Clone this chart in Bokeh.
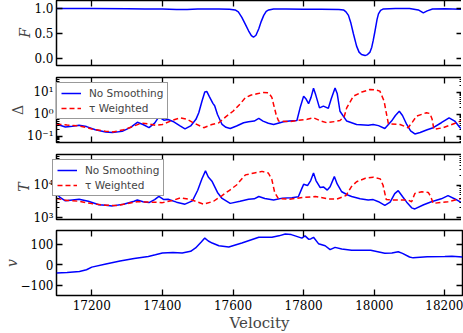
from bokeh.plotting import figure
from bokeh.layouts import column
from bokeh.models import (Range1d, FixedTicker, LinearAxis, LogAxis, LogTicker,
                          CustomJSTickFormatter, Legend, LegendItem)
from bokeh.embed import file_html
from bokeh.resources import INLINE

# ---------------- data ----------------
x_ticks = [17200, 17400, 17600, 17800, 18000, 18200]
f_ticks = [0.0, 0.5, 1.0]
v_ticks = [-100, 0, 100]
legend_labels = ["No Smoothing", "\u03c4 Weighted"]
y_labels = ["F", "\u0394", "T", "v"]
x_label = "Velocity"

f_vel = [17100, 17200, 17300, 17350, 17400, 17440, 17470, 17500, 17560, 17590,
         17606, 17615, 17625, 17635, 17644, 17652, 17658, 17665, 17673, 17680,
         17687, 17694, 17701, 17715, 17750, 17800, 17850, 17900, 17913, 17920,
         17927, 17934, 17941, 17950, 17957, 17964, 17974, 17981, 17988, 17993,
         17997, 18001, 18004, 18008, 18012, 18018, 18026, 18060, 18100, 18125,
         18139, 18150, 18165, 18200, 18250]
f_val = [1.0, 1.0, 0.995, 0.99, 0.99, 0.98, 0.98, 0.99, 0.99, 0.985,
         0.97, 0.93, 0.82, 0.68, 0.55, 0.45, 0.42, 0.46, 0.59, 0.74,
         0.86, 0.94, 0.97, 0.99, 0.99, 0.985, 0.985, 0.98, 0.97, 0.93,
         0.86, 0.70, 0.49, 0.24, 0.12, 0.07, 0.05, 0.07, 0.12, 0.22,
         0.35, 0.50, 0.62, 0.78, 0.89, 0.96, 0.99, 1.0, 1.0, 0.97,
         0.91, 0.95, 0.99, 0.995, 0.985]

d_raw_vel = [17100, 17110, 17125, 17145, 17164, 17185, 17210, 17239, 17258, 17286,
             17310, 17329, 17345, 17362, 17378, 17390, 17404, 17416, 17430, 17450,
             17464, 17480, 17495, 17503, 17512, 17520, 17526, 17533, 17543, 17548,
             17556, 17569, 17580, 17592, 17610, 17630, 17644, 17660, 17673, 17685,
             17700, 17715, 17743, 17760, 17781, 17790, 17800, 17807, 17814, 17821,
             17828, 17834, 17845, 17856, 17864, 17870, 17878, 17889, 17895, 17903,
             17922, 17950, 17983, 17997, 18012, 18030, 18049, 18060, 18071, 18080,
             18092, 18103, 18115, 18130, 18150, 18167, 18190, 18212, 18228, 18243,
             18250]
d_raw_val = [0.36, 0.32, 0.27, 0.29, 0.32, 0.28, 0.20, 0.16, 0.15, 0.17,
             0.26, 0.44, 0.35, 0.25, 0.40, 0.78, 0.55, 0.59, 0.48, 0.30,
             0.22, 0.30, 0.60, 1.2, 4.0, 10.5, 11.0, 6.5, 3.2, 2.5,
             1.0, 0.35, 0.26, 0.23, 0.30, 0.42, 0.47, 0.50, 0.66, 0.50,
             0.40, 0.35, 0.47, 0.50, 0.53, 2.0, 6.8, 5.0, 3.1, 6.0,
             15.5, 8.0, 2.0, 2.4, 2.1, 1.9, 5.0, 16.0, 9.0, 1.4,
             0.50, 0.35, 0.32, 0.35, 0.31, 0.23, 0.50, 0.90, 1.4, 0.90,
             0.35, 0.18, 0.13, 0.15, 0.20, 0.25, 0.42, 0.70, 0.50, 0.25,
             0.22]

d_tau_vel = [17100, 17130, 17165, 17200, 17240, 17260, 17290, 17320, 17340, 17360,
             17380, 17400, 17430, 17451, 17470, 17490, 17517, 17540, 17560, 17580,
             17600, 17620, 17635, 17650, 17668, 17685, 17701, 17710, 17715, 17722,
             17729, 17760, 17781, 17810, 17828, 17850, 17866, 17890, 17903, 17915,
             17922, 17941, 17965, 17988, 18005, 18016, 18028, 18034, 18040, 18073,
             18096, 18108, 18120, 18148, 18158, 18164, 18169, 18195, 18233, 18250]
d_tau_val = [0.36, 0.33, 0.30, 0.22, 0.17, 0.16, 0.20, 0.30, 0.40, 0.38,
             0.32, 0.35, 0.55, 0.70, 0.60, 0.40, 0.25, 0.35, 0.42, 0.80,
             1.4, 3.0, 5.8, 7.5, 8.7, 10.0, 9.7, 6.0, 2.8, 1.0,
             0.50, 0.47, 0.53, 0.60, 0.70, 0.50, 0.42, 0.48, 0.53, 0.80,
             2.0, 6.8, 10.5, 13.7, 13.0, 11.5, 4.0, 1.2, 0.38, 0.35,
             0.25, 0.45, 0.84, 1.2, 1.1, 0.6, 0.21, 0.25, 0.42, 0.55]

t_raw_vel = [17100, 17110, 17125, 17145, 17164, 17190, 17220, 17239, 17258, 17290,
             17320, 17329, 17345, 17362, 17378, 17390, 17404, 17416, 17440, 17464,
             17485, 17500, 17512, 17522, 17530, 17541, 17556, 17569, 17592, 17620,
             17644, 17660, 17673, 17690, 17715, 17740, 17767, 17785, 17795, 17800,
             17811, 17820, 17828, 17835, 17847, 17856, 17867, 17875, 17887, 17895,
             17908, 17925, 17936, 17960, 17983, 17997, 18012, 18030, 18045, 18058,
             18068, 18080, 18092, 18106, 18115, 18140, 18162, 18190, 18209, 18230,
             18250]
t_raw_val = [5600, 4200, 3300, 3500, 3700, 3200, 2500, 2400, 2300, 2600,
             3200, 3500, 3100, 2900, 3600, 4500, 3600, 3700, 3000, 2600,
             3300, 7000, 16000, 28000, 18000, 13000, 6000, 3900, 2750, 3200,
             3700, 3800, 4500, 3900, 3500, 4000, 4100, 4400, 8000, 10700,
             9800, 14000, 24000, 14000, 8500, 8900, 7100, 9000, 18600, 11000,
             6300, 5000, 4500, 3800, 3500, 3600, 3100, 2400, 3000, 5500,
             6800, 4500, 3000, 2000, 1850, 2500, 3100, 3800, 4800, 3700,
             2800]

t_tau_vel = [17100, 17130, 17164, 17200, 17240, 17270, 17300, 17329, 17370, 17400,
             17430, 17451, 17480, 17517, 17545, 17569, 17590, 17610, 17635, 17660,
             17682, 17700, 17710, 17718, 17728, 17760, 17800, 17833, 17870, 17893,
             17920, 17935, 17950, 17975, 17997, 18017, 18025, 18034, 18060, 18095,
             18106, 18115, 18135, 18153, 18160, 18167, 18209, 18250]
t_tau_val = [3900, 3400, 3200, 2700, 2400, 2350, 2700, 3100, 3000, 2900,
             3400, 4100, 3600, 2600, 3200, 4800, 7000, 10200, 21000, 24000,
             27000, 24000, 15000, 6000, 3900, 3700, 4200, 4500, 3800, 3700,
             4800, 9000, 12900, 16500, 17800, 15800, 10000, 3600, 3500, 3500,
             3100, 5600, 6300, 6000, 4500, 2750, 3100, 4000]

v_vel = [17100, 17130, 17165, 17185, 17200, 17240, 17280, 17320, 17360, 17380,
         17400, 17430, 17456, 17480, 17494, 17510, 17520, 17530, 17541, 17560,
         17588, 17625, 17673, 17710, 17730, 17748, 17765, 17776, 17795, 17804,
         17814, 17820, 17828, 17842, 17861, 17875, 17889, 17908, 17936, 17990,
         18030, 18050, 18068, 18080, 18100, 18110, 18150, 18200, 18220, 18250]
v_val = [-41, -38, -33, -25, -12, 3, 18, 30, 40, 48,
         57, 59, 57, 65, 81, 110, 129, 115, 105, 92,
         86, 105, 133, 133, 140, 149, 146, 140, 129, 140,
         124, 125, 133, 102, 92, 73, 84, 76, 70, 70,
         55, 57, 63, 55, 37, 33, 38, 40, 41, 37]

# ---------------- styling ----------------
SERIF = "DejaVu Serif"
SANS = "DejaVu Sans"
BLUE = "#0000ff"
RED = "#ff0000"
FRAME_W = 406
FRAME_H = 65
LEFT_B = 54

x_range = Range1d(17100, 18250)

sup_code = """
const sup = {"-": "\u207b", "0": "\u2070", "1": "\u00b9", "2": "\u00b2", "3": "\u00b3",
             "4": "\u2074", "5": "\u2075", "6": "\u2076", "7": "\u2077", "8": "\u2078", "9": "\u2079"};
const e = Math.round(Math.log10(tick));
return "10" + String(e).split("").map(c => sup[c]).join("");
"""
f_code = "return tick.toFixed(1);"
v_code = "return tick < 0 ? '\u2212' + Math.abs(tick).toFixed(0) : tick.toFixed(0);"
x_code = "return tick.toFixed(0);"


def style_axis(ax, show_labels):
    ax.axis_line_color = None
    ax.major_tick_in = 6
    ax.major_tick_out = 0
    ax.major_tick_line_width = 1.3
    ax.minor_tick_in = 3
    ax.minor_tick_out = 0
    ax.minor_tick_line_width = 1
    ax.major_label_standoff = 4
    if show_labels:
        ax.major_label_text_font = SERIF
        ax.major_label_text_font_size = "12px"
        ax.major_label_text_color = "black"
    else:
        ax.major_label_text_font_size = "1px"
        ax.major_label_text_color = None
        ax.major_label_standoff = 0


def make_fig(y_range, ylog, yticks, ycode, ylabel, italic, top_b, bottom_b, show_x):
    p = figure(x_range=x_range, y_range=y_range,
               y_axis_type="log" if ylog else "linear",
               frame_width=FRAME_W, frame_height=FRAME_H,
               min_border_left=LEFT_B, min_border_right=1,
               min_border_top=top_b, min_border_bottom=bottom_b,
               output_backend="svg", toolbar_location=None)
    p.grid.visible = False
    p.outline_line_color = "black"
    p.outline_line_width = 1.5
    p.background_fill_color = "white"
    p.border_fill_color = "white"

    # bottom x axis
    xa = p.xaxis[0]
    xa.ticker = FixedTicker(ticks=x_ticks)
    xa.formatter = CustomJSTickFormatter(code=x_code)
    style_axis(xa, show_x)
    xa.minor_tick_line_color = None
    if show_x:
        xa.axis_label = x_label
        xa.axis_label_text_font = SERIF
        xa.axis_label_text_font_size = "15px"
        xa.axis_label_text_font_style = "normal"
        xa.axis_label_standoff = 1

    # top x axis (ticks only)
    top = LinearAxis(ticker=FixedTicker(ticks=x_ticks))
    style_axis(top, False)
    top.minor_tick_line_color = None
    p.add_layout(top, "above")

    # left y axis
    ya = p.yaxis[0]
    if ylog:
        ya.ticker = LogTicker(mantissas=[1], desired_num_ticks=3, num_minor_ticks=10)
        ya.formatter = CustomJSTickFormatter(code=sup_code)
    else:
        ya.ticker = FixedTicker(ticks=yticks)
        ya.formatter = CustomJSTickFormatter(code=ycode)
    style_axis(ya, True)
    ya.major_label_standoff = 3
    if not ylog:
        ya.minor_tick_line_color = None
    ya.axis_label = ylabel
    ya.axis_label_text_font = SERIF
    ya.axis_label_text_font_size = "14px"
    ya.axis_label_text_font_style = "italic" if italic else "normal"
    ya.axis_label_standoff = -2

    # right y axis (ticks only)
    if ylog:
        right = LogAxis(ticker=LogTicker(mantissas=[1], desired_num_ticks=3, num_minor_ticks=10))
    else:
        right = LinearAxis(ticker=FixedTicker(ticks=yticks))
    style_axis(right, False)
    if not ylog:
        right.minor_tick_line_color = None
    p.add_layout(right, "right")
    return p


def add_legend(p, r1, r2):
    leg = Legend(items=[LegendItem(label=legend_labels[0], renderers=[r1]),
                        LegendItem(label=legend_labels[1], renderers=[r2])],
                 location="top_left")
    leg.margin = 5
    leg.padding = 4
    leg.spacing = 3
    leg.label_text_font = SANS
    leg.label_text_font_size = "10.5px"
    leg.label_height = 12
    leg.glyph_height = 12
    leg.glyph_width = 20
    leg.label_standoff = 8
    leg.border_line_color = "#333333"
    leg.border_line_width = 1
    leg.background_fill_color = "white"
    leg.background_fill_alpha = 1.0
    p.add_layout(leg)


p1 = make_fig(Range1d(-0.15, 1.16), False, f_ticks, f_code, y_labels[0], True, 0, 6, False)
p1.line(f_vel, f_val, line_color=BLUE, line_width=1.5)

p2 = make_fig(Range1d(0.053, 48), True, None, None, y_labels[1], False, 6, 6, False)
r2a = p2.line(d_raw_vel, d_raw_val, line_color=BLUE, line_width=1.5)
r2b = p2.line(d_tau_vel, d_tau_val, line_color=RED, line_width=1.5, line_dash="5 3")
add_legend(p2, r2a, r2b)

p3 = make_fig(Range1d(870, 90000), True, None, None, y_labels[2], True, 6, 5, False)
r3a = p3.line(t_raw_vel, t_raw_val, line_color=BLUE, line_width=1.5)
r3b = p3.line(t_tau_vel, t_tau_val, line_color=RED, line_width=1.5, line_dash="5 3")
add_legend(p3, r3a, r3b)

p4 = make_fig(Range1d(-150, 166), False, v_ticks, v_code, y_labels[3], True, 6, 6, True)
p4.line(v_vel, v_val, line_color=BLUE, line_width=1.5)

layout = column(p1, p2, p3, p4, spacing=0)

open("out.html", "w").write(file_html(layout, INLINE))
